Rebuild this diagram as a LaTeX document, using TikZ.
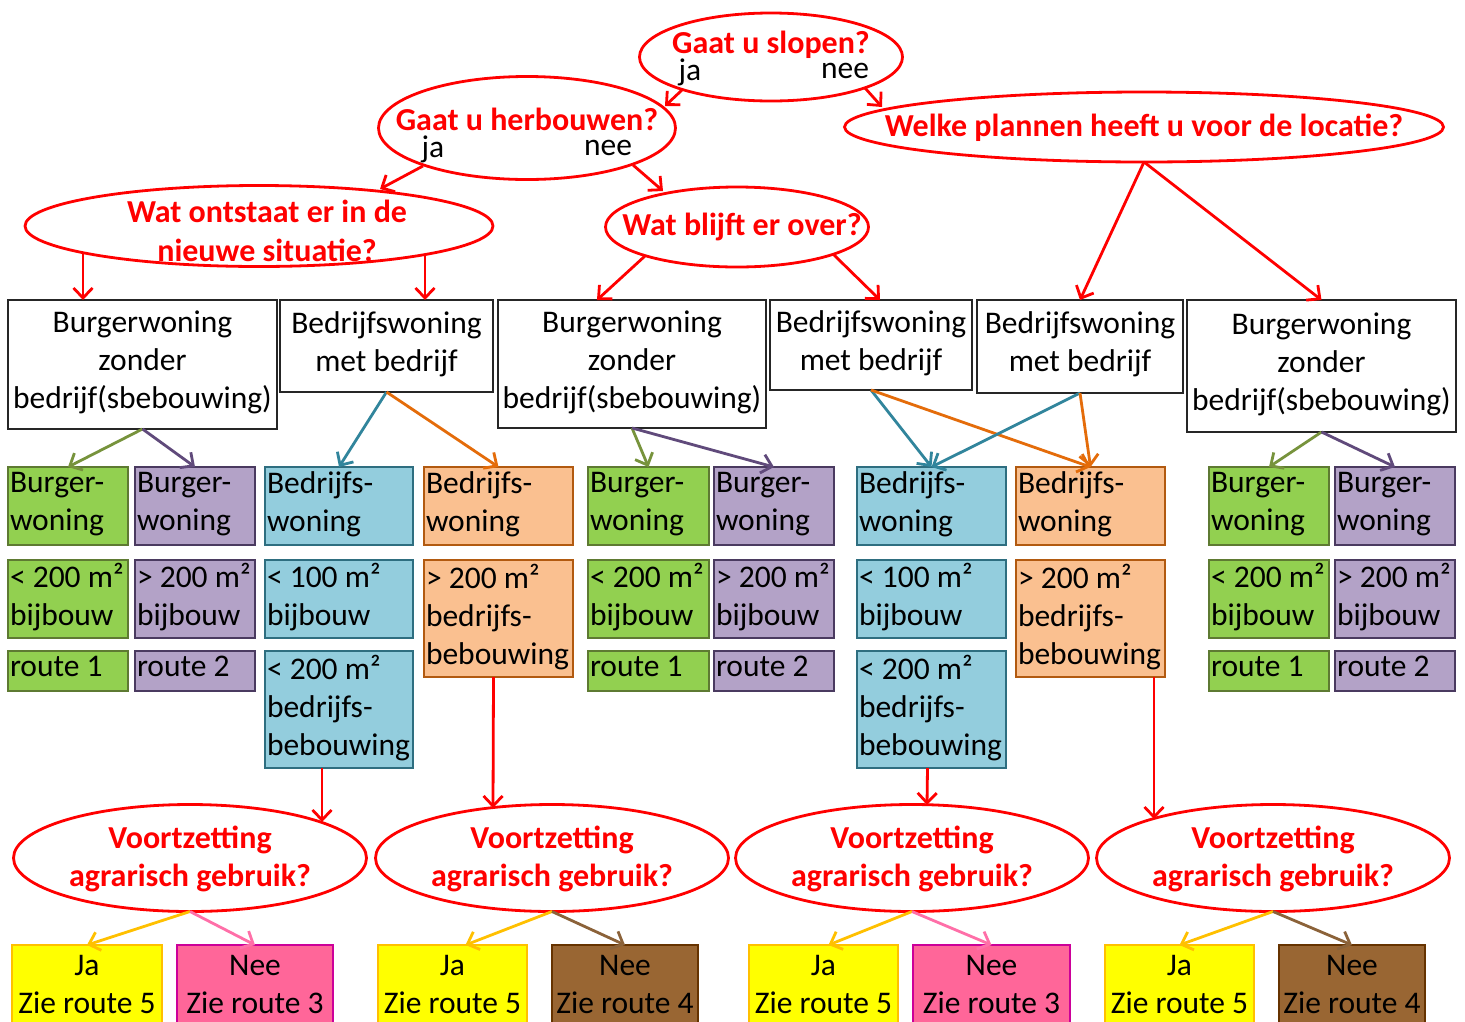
\documentclass[tikz,border=0pt]{standalone}
\usepackage{fontspec}
\setmainfont{Carlito}
\usetikzlibrary{arrows.meta,shapes.geometric,calc}
\definecolor{qred}{HTML}{FF0000}
\definecolor{gfill}{HTML}{92D050}
\definecolor{gline}{HTML}{5E7A32}
\definecolor{garr}{HTML}{77933C}
\definecolor{pfill}{HTML}{B3A2C7}
\definecolor{pline}{HTML}{4A3A60}
\definecolor{parr}{HTML}{604A7B}
\definecolor{bfill}{HTML}{93CDDD}
\definecolor{bline}{HTML}{2E6E80}
\definecolor{barr}{HTML}{31859C}
\definecolor{ofill}{HTML}{FAC090}
\definecolor{oline}{HTML}{B25A10}
\definecolor{oarr}{HTML}{E46C0A}
\definecolor{yfill}{HTML}{FFFF00}
\definecolor{yline}{HTML}{FFC000}
\definecolor{yarr}{HTML}{FFC000}
\definecolor{kfill}{HTML}{FF6699}
\definecolor{kline}{HTML}{CC0099}
\definecolor{karr}{HTML}{FF6FA8}
\definecolor{nfill}{HTML}{996633}
\definecolor{nline}{HTML}{663300}
\definecolor{narr}{HTML}{8B6239}
% line struts that fix the vertical placement of box texts
\newcommand\cbt[1]{\rule[-9pt]{0pt}{29pt}#1\rule[-9pt]{0pt}{29pt}}
\newcommand\wbt[1]{\rule[-9pt]{0pt}{26pt}#1\rule[-9pt]{0pt}{26pt}}
\tikzset{
  rg/.style={font=\fontsize{31.5}{38}\selectfont},
  q/.style={ellipse, draw=qred, line width=2.8pt, inner sep=0pt, outer sep=0pt},
  qt/.style={text=qred, font=\fontsize{32}{38.5}\selectfont\bfseries, align=center, inner sep=0pt},
  yn/.style={rg, inner sep=0pt},
  wbox/.style={rg, draw=black!85, line width=2pt, fill=white, align=flush center, inner sep=0pt, outer sep=0pt, anchor=north west},
  cb/.style={rg, draw=#1line, fill=#1fill, line width=2pt, align=flush left, inner xsep=2pt, inner ysep=0pt, outer sep=0pt, anchor=north west},
  eb/.style={rg, draw=#1line, fill=#1fill, line width=2pt, align=center, inner sep=0pt, outer sep=0pt, anchor=north west, minimum height=78pt},
  rarr/.style={draw=qred, line width=2.8pt, -{Straight Barb[length=10pt,width=19pt]}},
  carr/.style={draw=#1, line width=2.8pt, -{Straight Barb[length=10pt,width=19pt]}}
}
\begin{document}
\begin{tikzpicture}[x=1pt,y=-1pt]
\useasboundingbox (0,0) rectangle (1465,1021);
\clip (0,0) rectangle (1465,1021);
\fill[white] (0,0) rectangle (1465,1021);

% question ellipses
\node[q, minimum width=263pt, minimum height=88pt] (slopen) at (771,57) {};
\node[q, minimum width=297pt, minimum height=103pt] (herb) at (527,128) {};
\node[q, minimum width=599pt, minimum height=70pt] (welke) at (1144,127) {};
\node[q, minimum width=468pt, minimum height=81pt] (ont) at (259,226) {};
\node[q, minimum width=263pt, minimum height=80pt] (blijft) at (737,227) {};
\node[q, minimum width=353pt, minimum height=107pt] (V1) at (190,858) {};
\node[q, minimum width=353pt, minimum height=107pt] (V2) at (552,858) {};
\node[q, minimum width=353pt, minimum height=107pt] (V3) at (912,858) {};
\node[q, minimum width=353pt, minimum height=107pt] (V4) at (1273,858) {};

% question texts
\node[qt] (tslopen) at (771,45) {Gaat u slopen?};
\node[yn] (jaS) at (690,72) {ja};
\node[yn] (neeS) at (845,71) {nee};
\node[qt] (therb) at (527,119) {Gaat u herbouwen?};
\node[yn] (jaH) at (433,149) {ja};
\node[yn] (neeH) at (608,148) {nee};
\node[qt] (twelke) at (1144,128) {Welke plannen heeft u voor de locatie?};
\node[qt] (tont) at (267,231) {Wat ontstaat er in de\\nieuwe situatie?};
\node[qt] (tblijft) at (742,227) {Wat blijft er over?};
\node[qt] (tV1) at (190,859) {Voortzetting\\agrarisch gebruik?};
\node[qt] (tV2) at (552,859) {Voortzetting\\agrarisch gebruik?};
\node[qt] (tV3) at (912,859) {Voortzetting\\agrarisch gebruik?};
\node[qt] (tV4) at (1273,859) {Voortzetting\\agrarisch gebruik?};

% white boxes
\node[wbox, minimum width=269pt, minimum height=129pt, text width=269pt] (A) at (8,300) {\wbt{Burgerwoning\\zonder\\bedrijf(sbebouwing)}};
\node[wbox, minimum width=213pt, minimum height=92pt, text width=213pt] (B) at (280,300) {\wbt{Bedrijfswoning\\met bedrijf}};
\node[wbox, minimum width=268pt, minimum height=128pt, text width=268pt] (C) at (498,300) {\wbt{Burgerwoning\\zonder\\bedrijf(sbebouwing)}};
\node[wbox, minimum width=202pt, minimum height=90pt, text width=202pt] (D) at (770,300) {\wbt{Bedrijfswoning\\met bedrijf}};
\node[wbox, minimum width=206pt, minimum height=93pt, text width=206pt] (E) at (977,300) {\wbt{Bedrijfswoning\\met bedrijf}};
\node[wbox, minimum width=269pt, minimum height=132pt, text width=269pt] (F) at (1187,300) {\wbt{Burgerwoning\\zonder\\bedrijf(sbebouwing)}};

% coloured boxes, row 1
\node[cb=g, minimum width=120pt, minimum height=78pt, text width=116pt] (g1a) at (8,467) {\cbt{Burger-\\woning}};
\node[cb=p, minimum width=120pt, minimum height=78pt, text width=116pt] (p1a) at (135,467) {\cbt{Burger-\\woning}};
\node[cb=b, minimum width=148pt, minimum height=78pt, text width=144pt] (b1a) at (265,467) {\cbt{Bedrijfs-\\woning}};
\node[cb=o, minimum width=149pt, minimum height=78pt, text width=145pt] (o1a) at (424,467) {\cbt{Bedrijfs-\\woning}};
\node[cb=g, minimum width=121pt, minimum height=78pt, text width=117pt] (g2a) at (588,467) {\cbt{Burger-\\woning}};
\node[cb=p, minimum width=120pt, minimum height=78pt, text width=116pt] (p2a) at (714,467) {\cbt{Burger-\\woning}};
\node[cb=b, minimum width=149pt, minimum height=78pt, text width=145pt] (b2a) at (857,467) {\cbt{Bedrijfs-\\woning}};
\node[cb=o, minimum width=149pt, minimum height=78pt, text width=145pt] (o2a) at (1016,467) {\cbt{Bedrijfs-\\woning}};
\node[cb=g, minimum width=120pt, minimum height=78pt, text width=116pt] (g3a) at (1209,467) {\cbt{Burger-\\woning}};
\node[cb=p, minimum width=120pt, minimum height=78pt, text width=116pt] (p3a) at (1335,467) {\cbt{Burger-\\woning}};

% row 2
\node[cb=g, minimum width=120pt, minimum height=78pt, text width=116pt] (g1b) at (8,560) {\cbt{<~200~m²\\bijbouw}};
\node[cb=p, minimum width=120pt, minimum height=78pt, text width=116pt] (p1b) at (135,560) {\cbt{>~200~m²\\bijbouw}};
\node[cb=b, minimum width=148pt, minimum height=78pt, text width=144pt] (b1b) at (265,560) {\cbt{<~100~m²\\bijbouw}};
\node[cb=o, minimum width=149pt, minimum height=117pt, text width=145pt] (o1b) at (424,560) {\cbt{>~200~m²\\bedrijfs-\\bebouwing}};
\node[cb=g, minimum width=121pt, minimum height=78pt, text width=117pt] (g2b) at (588,560) {\cbt{<~200~m²\\bijbouw}};
\node[cb=p, minimum width=120pt, minimum height=78pt, text width=116pt] (p2b) at (714,560) {\cbt{>~200~m²\\bijbouw}};
\node[cb=b, minimum width=149pt, minimum height=78pt, text width=145pt] (b2b) at (857,560) {\cbt{<~100~m²\\bijbouw}};
\node[cb=o, minimum width=149pt, minimum height=117pt, text width=145pt] (o2b) at (1016,560) {\cbt{>~200~m²\\bedrijfs-\\bebouwing}};
\node[cb=g, minimum width=120pt, minimum height=78pt, text width=116pt] (g3b) at (1209,560) {\cbt{<~200~m²\\bijbouw}};
\node[cb=p, minimum width=120pt, minimum height=78pt, text width=116pt] (p3b) at (1335,560) {\cbt{>~200~m²\\bijbouw}};

% row 3
\node[cb=g, minimum width=120pt, minimum height=40pt, text width=116pt] (g1c) at (8,651) {\cbt{route~1}};
\node[cb=p, minimum width=120pt, minimum height=40pt, text width=116pt] (p1c) at (135,651) {\cbt{route~2}};
\node[cb=b, minimum width=148pt, minimum height=117pt, text width=144pt] (b1c) at (265,651) {\cbt{<~200~m²\\bedrijfs-\\bebouwing}};
\node[cb=g, minimum width=121pt, minimum height=40pt, text width=117pt] (g2c) at (588,651) {\cbt{route~1}};
\node[cb=p, minimum width=120pt, minimum height=40pt, text width=116pt] (p2c) at (714,651) {\cbt{route~2}};
\node[cb=b, minimum width=149pt, minimum height=117pt, text width=145pt] (b2c) at (857,651) {\cbt{<~200~m²\\bedrijfs-\\bebouwing}};
\node[cb=g, minimum width=120pt, minimum height=40pt, text width=116pt] (g3c) at (1209,651) {\cbt{route~1}};
\node[cb=p, minimum width=120pt, minimum height=40pt, text width=116pt] (p3c) at (1335,651) {\cbt{route~2}};

% answer boxes
\node[eb=y, minimum width=150pt] (ja1) at (12,945) {Ja\\Zie route 5};
\node[eb=k, minimum width=156pt] (ne1) at (177,945) {Nee\\Zie route 3};
\node[eb=y, minimum width=149pt] (ja2) at (378,945) {Ja\\Zie route 5};
\node[eb=n, minimum width=146pt] (ne2) at (552,945) {Nee\\Zie route 4};
\node[eb=y, minimum width=149pt] (ja3) at (749,945) {Ja\\Zie route 5};
\node[eb=k, minimum width=157pt] (ne3) at (913,945) {Nee\\Zie route 3};
\node[eb=y, minimum width=149pt] (ja4) at (1105,945) {Ja\\Zie route 5};
\node[eb=n, minimum width=146pt] (ne4) at (1279,945) {Nee\\Zie route 4};

% red connectors
\draw[rarr] ($(slopen.center)+(-89,33)$) -- ($(herb.center)+(138,-22)$);
\draw[rarr] ($(slopen.center)+(94,31)$) -- ($(welke.center)+(-262,-20)$);
\draw[rarr] ($(herb.center)+(-104,38)$) -- ($(ont.center)+(121,-37)$);
\draw[rarr] ($(herb.center)+(106,37)$) -- ($(blijft.center)+(-74,-36)$);
\draw[rarr] ($(ont.center)+(-176,27)$) -- ($(A.north west)+(75,0)$);
\draw[rarr] ($(ont.center)+(166,29)$) -- ($(B.north west)+(145,0)$);
\draw[rarr] ($(blijft.center)+(-92,29)$) -- ($(C.north west)+(99,0)$);
\draw[rarr] ($(blijft.center)+(96,27)$) -- ($(D.north west)+(110,0)$);
\draw[rarr] (welke.south) -- (E.north);
\draw[rarr] (welke.south) -- (F.north);

% coloured connectors
\draw[carr=garr] (A.south) -- (g1a.north);
\draw[carr=parr] (A.south) -- (p1a.north);
\draw[carr=barr] (B.south) -- (b1a.north);
\draw[carr=oarr] (B.south) -- (o1a.north);
\draw[carr=garr] (C.south) -- (g2a.north);
\draw[carr=parr] (C.south) -- (p2a.north);
\draw[carr=barr] (D.south) -- (b2a.north);
\draw[carr=oarr] (D.south) -- (o2a.north);
\draw[carr=barr] (E.south) -- (b2a.north);
\draw[carr=oarr] (E.south) -- (o2a.north);
\draw[carr=garr] (F.south) -- (g3a.north);
\draw[carr=parr] (F.south) -- (p3a.north);

% to the bottom questions
\draw[rarr] ($(b1c.south)+(-17,0)$) -- ($(V1.center)+(132,-36)$);
\draw[rarr] ($(o1b.south)+(-5,0)$) -- ($(V2.center)+(-59,-50)$);
\draw[rarr] ($(b2c.south)+(-4,0)$) -- ($(V3.center)+(15,-53)$);
\draw[rarr] ($(o2b.south east)+(-11,0)$) -- ($(V4.center)+(-119,-39)$);

% answers
\draw[carr=yarr] (V1.south) -- (ja1.north);
\draw[carr=karr] (V1.south) -- (ne1.north);
\draw[carr=yarr] (V2.south) -- ($(ja2.north)+(13,0)$);
\draw[carr=narr] (V2.south) -- (ne2.north);
\draw[carr=yarr] (V3.south) -- ($(ja3.north)+(5,0)$);
\draw[carr=karr] (V3.south) -- (ne3.north);
\draw[carr=yarr] (V4.south) -- (ja4.north);
\draw[carr=narr] (V4.south) -- (ne4.north);
\end{tikzpicture}
\end{document}
